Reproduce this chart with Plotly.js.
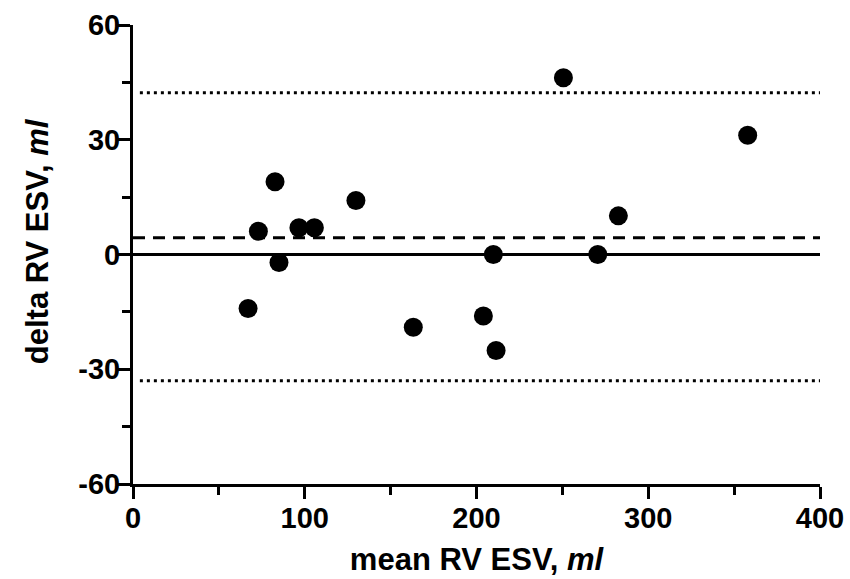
<!DOCTYPE html>
<html>
<head>
<meta charset="utf-8">
<script src="https://cdn.plot.ly/plotly-3.0.1.min.js"></script>
<style>html,body{margin:0;padding:0;background:#fff;}#chart{width:850px;height:579px;}</style>
</head>
<body>
<div id="chart"></div>
<script>
// Bland-Altman data: mean RV ESV (ml) vs delta RV ESV (ml)
const meanESV  = [67, 73, 82.7, 85, 96.6, 105.6, 129.8, 163.2, 204, 209.8, 211.4, 250.6, 270.6, 282.6, 357.9];
const deltaESV = [-14.1, 6.1, 19.0, -2.1, 7.0, 7.0, 14.1, -19.0, -16.1, 0, -25.1, 46.2, 0, 10.1, 31.2];
const bias = 4.4;
const upperLoA = 42.3;
const lowerLoA = -33.0;
const zeroLine = 0;
const lineX = [0, 400];
const loaX = [4, 400];
const xTicks = [0, 100, 200, 300, 400];
const yTicks = [-60, -30, 0, 30, 60];
const xTitle = '<b>mean RV ESV, <i>ml</i></b>';
const yTitle = '<b>delta RV ESV, <i>ml</i></b>';

const fam = 'Liberation Sans, Arial, sans-serif';

const traces = [
  {x: lineX, y: [zeroLine, zeroLine], mode: 'lines', line: {color: '#000', width: 3}, hoverinfo: 'skip'},
  {x: lineX, y: [bias, bias], mode: 'lines', line: {color: '#000', width: 3, dash: '12px,8px'}, hoverinfo: 'skip'},
  {x: loaX, y: [upperLoA, upperLoA], mode: 'lines', line: {color: '#000', width: 3, dash: '3px,4px'}, hoverinfo: 'skip'},
  {x: loaX, y: [lowerLoA, lowerLoA], mode: 'lines', line: {color: '#000', width: 3, dash: '3px,4px'}, hoverinfo: 'skip'},
  {x: meanESV, y: deltaESV, mode: 'markers', marker: {color: '#000', size: 19}, cliponaxis: false}
];

const layout = {
  width: 850, height: 579,
  margin: {l: 133, r: 30, t: 25, b: 95},
  showlegend: false,
  paper_bgcolor: '#fff', plot_bgcolor: '#fff',
  font: {family: fam, color: '#000'},
  xaxis: {
    range: [0, 400], tickvals: xTicks, ticktext: xTicks.map(String),
    showgrid: false, zeroline: false, showline: true, linecolor: '#000', linewidth: 3,
    ticks: 'outside', ticklen: 12, tickwidth: 3, tickcolor: '#000',
    minor: {dtick: 50, tick0: 0, ticks: 'outside', ticklen: 8, tickwidth: 3, tickcolor: '#000', showgrid: false},
    tickfont: {family: fam, size: 29, color: '#000', weight: 700},
    ticklabelstandoff: -6,
    title: {text: xTitle, font: {family: fam, size: 31, color: '#000'}, standoff: 16}
  },
  yaxis: {
    range: [-60, 60], tickvals: yTicks, ticktext: yTicks.map(String),
    showgrid: false, zeroline: false, showline: true, linecolor: '#000', linewidth: 3,
    ticks: 'outside', ticklen: 12, tickwidth: 3, tickcolor: '#000',
    minor: {dtick: 15, tick0: 0, ticks: 'outside', ticklen: 8, tickwidth: 3, tickcolor: '#000', showgrid: false},
    tickfont: {family: fam, size: 29, color: '#000', weight: 700},
    ticklabelstandoff: -8
  },
  annotations: [{
    text: yTitle, xref: 'paper', yref: 'paper', x: -0.1397, y: 0.529,
    xanchor: 'center', yanchor: 'middle', textangle: -90, showarrow: false,
    font: {family: fam, size: 31, color: '#000'}
  }]
};

Plotly.newPlot('chart', traces, layout, {displayModeBar: false, staticPlot: true});
</script>
</body>
</html>
